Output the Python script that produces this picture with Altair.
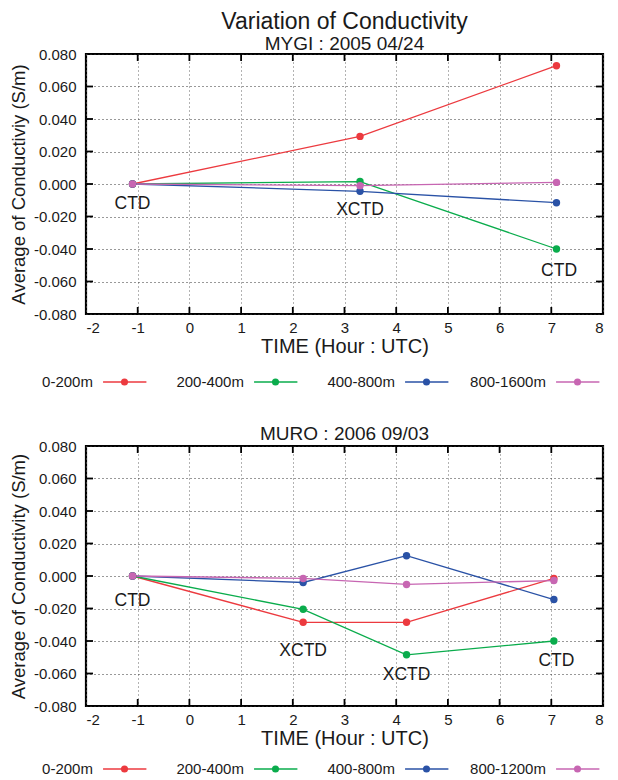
import altair as alt
import pandas as pd

# ---------------- data ----------------
series_top = ["0-200m", "200-400m", "400-800m", "800-1600m"]
series_bot = ["0-200m", "200-400m", "400-800m", "800-1200m"]
all_series = ["0-200m", "200-400m", "400-800m", "800-1600m", "800-1200m"]
all_colors = ["#ec3a3f", "#0aac4c", "#2a52a6", "#c766b2", "#c766b2"]

time_top = [-1.1, 3.3, 7.1]
top_0_200 = [0.0, 0.0293, 0.0728]
top_200_400 = [0.0, 0.0015, -0.0400]
top_400_800 = [0.0, -0.0045, -0.0115]
top_800_1600 = [0.0, -0.0010, 0.0010]

time_bot = [-1.1, 2.2, 4.2, 7.05]
bot_0_200 = [0.0, -0.0285, -0.0285, -0.0015]
bot_200_400 = [0.0, -0.0205, -0.0485, -0.0400]
bot_400_800 = [0.0, -0.0040, 0.0125, -0.0145]
bot_800_1200 = [0.0, -0.0015, -0.0052, -0.0028]

label_top_text = ["CTD", "XCTD", "CTD"]
label_top_time = [-1.1, 3.3, 7.15]
label_top_value = [-0.0123, -0.0158, -0.0533]

label_bot_text = ["CTD", "XCTD", "XCTD", "CTD"]
label_bot_time = [-1.1, 2.2, 4.2, 7.1]
label_bot_value = [-0.0154, -0.0462, -0.0611, -0.0523]

x_ticks = [-2, -1, 0, 1, 2, 3, 4, 5, 6, 7, 8]
y_ticks = [-0.08, -0.06, -0.04, -0.02, 0.0, 0.02, 0.04, 0.06, 0.08]

FONT = "Liberation Sans"
W, H = 517, 260
TXT = "#1a1a1a"

color_scale = alt.Scale(domain=all_series, range=all_colors)
x_scale = alt.Scale(domain=[-2, 8], nice=False, zero=False)
y_scale = alt.Scale(domain=[-0.08, 0.08], nice=False, zero=False)


def long_df(times, names, cols):
    rows = []
    for k, (n, vals) in enumerate(zip(names, cols)):
        for t, v in zip(times, vals):
            rows.append({"series": n, "order": k, "time": t, "value": v})
    return pd.DataFrame(rows)


def panel(df, labels, ytitle, title):
    x_axis = alt.Axis(values=x_ticks, title="TIME (Hour : UTC)", grid=True,
                      gridDash=[1, 3], gridColor="#666", gridWidth=1,
                      ticks=False, domain=False, labelFontSize=15, titleFontSize=20,
                      labelPadding=6, titlePadding=1, labelFont=FONT, titleFont=FONT,
                      labelColor=TXT, titleColor=TXT, titleFontWeight="normal",
                      labelOverlap=False,
                      labelExpr="replace(format(datum.value, 'd'), '\u2212', '-')")
    y_axis = alt.Axis(values=y_ticks, title=ytitle, grid=True,
                      gridDash=[1, 3], gridColor="#333", gridWidth=1,
                      ticks=False, domain=False, labelFontSize=15, titleFontSize=18.5,
                      labelPadding=10, titlePadding=5, labelFont=FONT, titleFont=FONT,
                      labelColor=TXT, titleColor=TXT, titleFontWeight="normal",
                      labelOverlap=False,
                      labelExpr="replace(format(datum.value, '.3f'), '\u2212', '-')")
    color = alt.Color("series:N", scale=color_scale, legend=None)
    xenc = alt.X("time:Q", scale=x_scale, axis=x_axis)
    yenc = alt.Y("value:Q", scale=y_scale, axis=y_axis)
    base = alt.Chart(df)
    lines = base.mark_line(strokeWidth=1.3).encode(
        x=xenc, y=yenc, color=color, detail="series:N", order="time:Q")
    pts = base.mark_circle(size=55, opacity=1).encode(
        x=xenc, y=yenc, color=color, order="order:Q")
    lab = alt.Chart(labels).mark_text(font=FONT, fontSize=17.5, color=TXT).encode(
        x=xenc, y=yenc, text="text:N")

    xt = alt.Chart(pd.DataFrame({"time": x_ticks[1:-1]}))
    yt = alt.Chart(pd.DataFrame({"value": y_ticks[1:-1]}))
    tk = dict(color="black", strokeWidth=1.8)
    xt1 = xt.mark_rule(**tk).encode(x=xenc, y=alt.value(0), y2=alt.value(7))
    xt2 = xt.mark_rule(**tk).encode(x=xenc, y=alt.value(H - 7), y2=alt.value(H))
    yt1 = yt.mark_rule(**tk).encode(y=yenc, x=alt.value(0), x2=alt.value(7))
    yt2 = yt.mark_rule(**tk).encode(y=yenc, x=alt.value(W - 7), x2=alt.value(W))

    return alt.layer(lines, xt1, xt2, yt1, yt2, pts, lab).properties(
        width=W, height=H, title=title,
        view=alt.ViewBackground(stroke="black", strokeWidth=2.2))


def legend(names, h):
    ldf = pd.DataFrame({"series": names, "idx": list(range(len(names)))})
    xs = alt.Scale(domain=[0, W / 151.0], nice=False, zero=False)
    color = alt.Color("series:N", scale=color_scale, legend=None)
    b = alt.Chart(ldf)
    txt = b.mark_text(font=FONT, fontSize=15, align="right", baseline="middle",
                      color=TXT).transform_calculate(p="datum.idx + 0.046").encode(
        x=alt.X("p:Q", scale=xs, axis=None), y=alt.value(8), text="series:N")
    rl = b.mark_rule(strokeWidth=1.5).transform_calculate(
        a="datum.idx + 0.113", c="datum.idx + 0.40").encode(
        x=alt.X("a:Q", scale=xs, axis=None), x2="c:Q", y=alt.value(8), color=color)
    dt = b.mark_circle(size=50, opacity=1).transform_calculate(p="datum.idx + 0.255").encode(
        x=alt.X("p:Q", scale=xs, axis=None), y=alt.value(8), color=color)
    return alt.layer(rl, dt, txt).properties(width=W, height=h,
                                             view=alt.ViewBackground(stroke=None))


df_top = long_df(time_top, series_top, [top_0_200, top_200_400, top_400_800, top_800_1600])
df_bot = long_df(time_bot, series_bot, [bot_0_200, bot_200_400, bot_400_800, bot_800_1200])
lab_top = pd.DataFrame({"text": label_top_text, "time": label_top_time, "value": label_top_value})
lab_bot = pd.DataFrame({"text": label_bot_text, "time": label_bot_time, "value": label_bot_value})

top = panel(df_top, lab_top, "Average of Conductiviy (S/m)",
            alt.TitleParams("Variation of Conductivity", subtitle="MYGI : 2005 04/24",
                            font=FONT, fontSize=23, fontWeight="normal", color=TXT,
                            subtitleFont=FONT, subtitleFontSize=19, subtitleColor=TXT,
                            subtitlePadding=1, offset=-7, anchor="middle"))
bot = panel(df_bot, lab_bot, "Average of Conductivity (S/m)",
            alt.TitleParams("MURO : 2006 09/03", font=FONT, fontSize=19, fontWeight="normal",
                            color=TXT, offset=-5, anchor="middle"))

lower = alt.vconcat(bot, legend(series_bot, 10), spacing=11)
chart = alt.vconcat(top, legend(series_top, 33), lower, spacing=16).configure(
    background="white", padding={"top": 1, "left": 0, "right": 0, "bottom": 0})

chart.save("out.html", embed_options={"renderer": "svg", "actions": False})
